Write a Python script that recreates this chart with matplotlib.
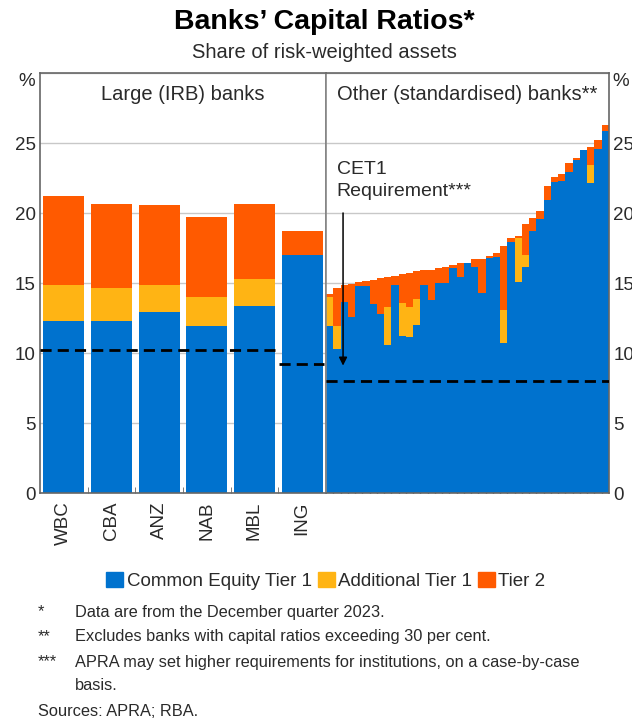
import matplotlib
matplotlib.use('Agg')
import matplotlib.pyplot as plt
from matplotlib.patches import Patch
import numpy as np

plt.rcParams['font.family'] = ['Liberation Sans', 'DejaVu Sans']

# Large (IRB) banks
big_banks = ['WBC', 'CBA', 'ANZ', 'NAB', 'MBL', 'ING']
big_cet1 = [12.29, 12.29, 12.95, 11.95, 13.38, 16.99]
big_at1 = [2.54, 2.35, 1.88, 2.05, 1.90, 0.0]
big_t2 = [6.37, 6.03, 5.77, 5.68, 5.39, 1.71]
big_req = [10.25, 9.25]  # four majors + MBL, then ING

# Other (standardised) banks, sorted by total capital
oth_cet1 = [11.92, 10.30, 13.66, 12.59, 14.78, 14.80, 13.47, 12.78, 10.56, 14.85,
            11.21, 11.11, 11.99, 14.85, 13.82, 15.01, 15.01, 16.08, 15.44, 16.44,
            16.15, 14.30, 16.82, 16.87, 10.68, 17.94, 15.08, 16.15, 18.72, 19.60,
            20.96, 22.22, 22.29, 22.94, 23.77, 24.48, 22.15, 24.60, 25.86]
oth_at1 = [2.09, 1.65, 0, 0, 0, 0, 0, 0, 2.74, 0,
           2.38, 2.19, 1.90, 0, 0, 0, 0, 0, 0, 0,
           0, 0, 0, 0, 2.38, 0, 3.17, 0.84, 0, 0,
           0, 0, 0, 0, 0, 0, 1.26, 0, 0]
oth_t2 = [0.24, 2.68, 1.19, 2.36, 0.27, 0.32, 1.78, 2.57, 2.15, 0.67,
          2.03, 2.40, 1.96, 1.07, 2.14, 1.03, 1.15, 0.19, 0.96, 0.0,
          0.55, 2.42, 0.12, 0.28, 4.57, 0.24, 0.10, 2.26, 0.89, 0.55,
          0.95, 0.36, 0.48, 0.66, 0.17, 0.0, 1.31, 0.60, 0.41]
oth_req = 8.0

blue = '#0072CE'
yellow = '#FFB414'
orange = '#FF5A00'
txt = '#2a2a2a'
frame = '#666666'

W, H = 632, 719
fig = plt.figure(figsize=(W / 100, H / 100), dpi=100)

x0, xm, x1 = 40, 326, 609
yt, yb = 73, 493
ax1 = fig.add_axes([x0 / W, 1 - yb / H, (xm - x0) / W, (yb - yt) / H])
ax2 = fig.add_axes([xm / W, 1 - yb / H, (x1 - xm) / W, (yb - yt) / H])

# left panel bars
xb = np.arange(len(big_banks))
cet1 = np.array(big_cet1)
at1 = np.array(big_at1)
t2 = np.array(big_t2)
ax1.bar(xb, cet1, width=0.86, color=blue, zorder=2)
ax1.bar(xb, at1, bottom=cet1, width=0.86, color=yellow, zorder=2)
ax1.bar(xb, t2, bottom=cet1 + at1, width=0.86, color=orange, zorder=2)
ax1.hlines(big_req[0], -0.5, 4.45, colors='black', linestyles=(0, (4, 2.2)), lw=2, zorder=3)
ax1.hlines(big_req[1], 4.52, 5.45, colors='black', linestyles=(0, (4, 2.2)), lw=2, zorder=3)
ax1.set_xlim(-0.5, 5.5)

# right panel bars
xo = np.arange(len(oth_cet1))
oc = np.array(oth_cet1)
oa = np.array(oth_at1)
ot = np.array(oth_t2)
ax2.bar(xo, oc, width=1.0, color=blue, zorder=2, lw=0, antialiased=False)
ax2.bar(xo, oa, bottom=oc, width=1.0, color=yellow, zorder=2, lw=0, antialiased=False)
ax2.bar(xo, ot, bottom=oc + oa, width=1.0, color=orange, zorder=2, lw=0, antialiased=False)
ax2.set_xlim(-0.5, len(xo) - 0.5)
ax2.axhline(oth_req, color='black', ls=(0, (4, 2.2)), lw=2, zorder=3)

ax2.annotate('', xy=(1.85, 8.9), xytext=(1.85, 20.2),
             arrowprops=dict(arrowstyle='-|>', color='black', lw=1.1, mutation_scale=12), zorder=4)
ax2.text(0.95, 20.9, 'CET1\nRequirement***', fontsize=14, color=txt, ha='left', va='bottom',
         linespacing=1.45, zorder=4)

for ax in (ax1, ax2):
    ax.set_ylim(0, 30)
    ax.set_yticks([0, 5, 10, 15, 20, 25, 30])
    ax.yaxis.grid(True, color='#c8c8c8', lw=1)
    ax.set_axisbelow(True)
    for s in ax.spines.values():
        s.set_color(frame)
        s.set_linewidth(1.2)

ax1.set_yticklabels(['0', '5', '10', '15', '20', '25', ''])
ax1.tick_params(axis='y', length=0, labelsize=13.5, labelcolor=txt, pad=3)
ax1.set_xticks(xb)
ax1.set_xticklabels(big_banks, rotation=90, fontsize=13.5, color=txt)
ax1.tick_params(axis='x', which='major', length=0, pad=6)
ax1.set_xticks(xb[:-1] + 0.5, minor=True)
ax1.tick_params(axis='x', which='minor', direction='in', length=4, color=frame)

ax2.yaxis.tick_right()
ax2.set_yticklabels(['0', '5', '10', '15', '20', '25', ''])
ax2.tick_params(axis='y', length=0, labelsize=13.5, labelcolor=txt, pad=3)
ax2.spines['left'].set_color('#888888')
ax2.set_xticks(xo[:-1] + 0.5)
ax2.set_xticklabels([])
ax2.tick_params(axis='x', direction='in', length=5, color='black', width=1)

ax1.text(0.5, 0.95, 'Large (IRB) banks', transform=ax1.transAxes, ha='center', va='center',
         fontsize=14.5, color=txt)
ax2.text(0.5, 0.95, 'Other (standardised) banks**', transform=ax2.transAxes, ha='center',
         va='center', fontsize=14.5, color=txt)

fig.text(27 / W, 1 - 82 / H, '%', fontsize=13.5, color=txt, ha='center', va='center')
fig.text(621 / W, 1 - 81 / H, '%', fontsize=13.5, color=txt, ha='center', va='center')

fig.text(324 / W, 1 - 22 / H, 'Banks\u2019 Capital Ratios*', fontsize=20.5, fontweight='bold',
         ha='center', va='center', color='black')
fig.text(324 / W, 1 - 52 / H, 'Share of risk-weighted assets', fontsize=14.5,
         ha='center', va='center', color=txt)

handles = [Patch(color=blue, label='Common Equity Tier 1'),
           Patch(color=yellow, label='Additional Tier 1'),
           Patch(color=orange, label='Tier 2')]
fig.legend(handles=handles, loc='center', bbox_to_anchor=(326 / W, 1 - 581 / H), ncol=3,
           frameon=False, fontsize=13.5, handlelength=0.9, handleheight=0.9,
           handletextpad=0.2, columnspacing=0.3, labelcolor=txt)

notes = [('*', 'Data are from the December quarter 2023.', 612),
         ('**', 'Excludes banks with capital ratios exceeding 30 per cent.', 637),
         ('***', 'APRA may set higher requirements for institutions, on a case-by-case', 662),
         ('', 'basis.', 686)]
for sym, s, y in notes:
    fig.text(38 / W, 1 - y / H, sym, fontsize=11.8, color=txt, ha='left', va='center')
    fig.text(75 / W, 1 - y / H, s, fontsize=11.8, color=txt, ha='left', va='center')
fig.text(38 / W, 1 - 712 / H, 'Sources: APRA; RBA.', fontsize=11.8, color=txt, ha='left', va='center')

fig.savefig('out.png', dpi=100, facecolor='white')
